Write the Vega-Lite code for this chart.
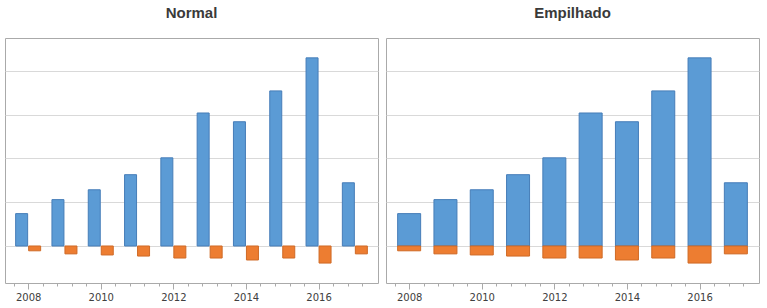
{
  "$schema": "https://vega.github.io/schema/vega-lite/v6.json",
  "padding": {"left": 4, "top": 5, "right": 2, "bottom": 2},
  "spacing": 6,
  "datasets": {
    "d": [
      {"year": 2008, "serie": "Série 1", "value": 7.4},
      {"year": 2009, "serie": "Série 1", "value": 10.6},
      {"year": 2010, "serie": "Série 1", "value": 12.85},
      {"year": 2011, "serie": "Série 1", "value": 16.3},
      {"year": 2012, "serie": "Série 1", "value": 20.15},
      {"year": 2013, "serie": "Série 1", "value": 30.4},
      {"year": 2014, "serie": "Série 1", "value": 28.4},
      {"year": 2015, "serie": "Série 1", "value": 35.45},
      {"year": 2016, "serie": "Série 1", "value": 43.0},
      {"year": 2017, "serie": "Série 1", "value": 14.45},
      {"year": 2008, "serie": "Série 2", "value": -1.1},
      {"year": 2009, "serie": "Série 2", "value": -1.8},
      {"year": 2010, "serie": "Série 2", "value": -2.05},
      {"year": 2011, "serie": "Série 2", "value": -2.3},
      {"year": 2012, "serie": "Série 2", "value": -2.75},
      {"year": 2013, "serie": "Série 2", "value": -2.75},
      {"year": 2014, "serie": "Série 2", "value": -3.2},
      {"year": 2015, "serie": "Série 2", "value": -2.75},
      {"year": 2016, "serie": "Série 2", "value": -3.9},
      {"year": 2017, "serie": "Série 2", "value": -1.8}
    ]
  },
  "hconcat": [
    {
      "title": {"text": "Normal"},
      "width": 373,
      "height": 245,
      "data": {"name": "d"},
      "layer": [
        {
          "transform": [{"filter": "datum.serie == 'Série 1'"}],
          "mark": {"type": "bar", "width": 12, "xOffset": -6.5, "fill": "#5B9BD5", "stroke": "#467DB8", "strokeWidth": 1},
          "encoding": {
            "x": {"field": "year", "type": "quantitative", "scale": {"domain": [2007.5, 2017.5], "nice": false, "zero": false},
              "axis": {"orient": "bottom", "values": [2008, 2010, 2012, 2014, 2016], "format": "d", "tickSize": 6}},
            "y": {"field": "value", "type": "quantitative", "scale": {"domain": [-8.46, 47.54], "nice": false, "zero": false},
              "axis": {"values": [0, 10, 20, 30, 40]}}
          }
        },
        {
          "transform": [{"filter": "datum.serie == 'Série 2'"}],
          "mark": {"type": "bar", "width": 12, "xOffset": 6.5, "fill": "#ED7D31", "stroke": "#CF6A26", "strokeWidth": 1},
          "encoding": {
            "x": {"field": "year", "type": "quantitative", "scale": {"domain": [2007.5, 2017.5], "nice": false, "zero": false},
              "axis": {"orient": "bottom", "values": [2007.6, 2008.4, 2008.8, 2009.2, 2009.6, 2010.4, 2010.8, 2011.2, 2011.6, 2012.4], "labels": false, "tickSize": 3}},
            "y": {"field": "value", "type": "quantitative", "scale": {"domain": [-8.46, 47.54], "nice": false, "zero": false},
              "axis": {"values": [0, 10, 20, 30, 40]}}
          }
        },
        {
          "transform": [{"filter": "false"}],
          "mark": {"type": "bar"},
          "encoding": {
            "x": {"field": "year", "type": "quantitative", "scale": {"domain": [2007.5, 2017.5], "nice": false, "zero": false},
              "axis": {"orient": "bottom", "values": [2012.8, 2013.2, 2013.6, 2014.4, 2014.8, 2015.2, 2015.6, 2016.4, 2016.8, 2017.2], "labels": false, "tickSize": 3}},
            "y": {"field": "value", "type": "quantitative", "scale": {"domain": [-8.46, 47.54], "nice": false, "zero": false},
              "axis": {"values": [0, 10, 20, 30, 40]}}
          }
        }
      ],
      "resolve": {"axis": {"x": "independent"}}
    },
    {
      "title": {"text": "Empilhado"},
      "width": 373,
      "height": 245,
      "data": {"name": "d"},
      "layer": [
        {
          "mark": {"type": "bar", "width": 23, "strokeWidth": 1},
          "encoding": {
            "x": {"field": "year", "type": "quantitative", "scale": {"domain": [2007.5, 2017.5], "nice": false, "zero": false},
              "axis": {"orient": "bottom", "values": [2008, 2010, 2012, 2014, 2016], "format": "d", "tickSize": 6}},
            "y": {"field": "value", "type": "quantitative", "stack": "zero", "scale": {"domain": [-8.46, 47.54], "nice": false, "zero": false},
              "axis": {"values": [0, 10, 20, 30, 40]}},
            "color": {"field": "serie", "type": "nominal",
              "scale": {"domain": ["Série 1", "Série 2"], "range": ["#5B9BD5", "#ED7D31"]}, "legend": null},
            "stroke": {"field": "serie", "type": "nominal",
              "scale": {"domain": ["Série 1", "Série 2"], "range": ["#467DB8", "#CF6A26"]}, "legend": null}
          }
        },
        {
          "transform": [{"filter": "false"}],
          "mark": {"type": "bar"},
          "encoding": {
            "x": {"field": "year", "type": "quantitative", "scale": {"domain": [2007.5, 2017.5], "nice": false, "zero": false},
              "axis": {"orient": "bottom", "values": [2007.6, 2008.4, 2008.8, 2009.2, 2009.6, 2010.4, 2010.8, 2011.2, 2011.6, 2012.4], "labels": false, "tickSize": 3}},
            "y": {"field": "value", "type": "quantitative", "scale": {"domain": [-8.46, 47.54], "nice": false, "zero": false},
              "axis": {"values": [0, 10, 20, 30, 40]}}
          }
        },
        {
          "transform": [{"filter": "false"}],
          "mark": {"type": "bar"},
          "encoding": {
            "x": {"field": "year", "type": "quantitative", "scale": {"domain": [2007.5, 2017.5], "nice": false, "zero": false},
              "axis": {"orient": "bottom", "values": [2012.8, 2013.2, 2013.6, 2014.4, 2014.8, 2015.2, 2015.6, 2016.4, 2016.8, 2017.2], "labels": false, "tickSize": 3}},
            "y": {"field": "value", "type": "quantitative", "scale": {"domain": [-8.46, 47.54], "nice": false, "zero": false},
              "axis": {"values": [0, 10, 20, 30, 40]}}
          }
        }
      ],
      "resolve": {"axis": {"x": "independent"}}
    }
  ],
  "config": {
    "view": {"stroke": "#AAAAAA", "strokeWidth": 1},
    "title": {"font": "Liberation Sans", "fontSize": 15, "fontWeight": "bold", "color": "#3A3A3A", "offset": 17, "anchor": "middle"},
    "axisX": {
      "grid": false, "domain": false, "title": null,
      "tickColor": "#AAAAAA", "tickWidth": 1,
      "labelFont": "DejaVu Sans", "labelFontSize": 10, "labelColor": "#404040",
      "labelPadding": 3, "labelOverlap": false, "labelFlush": false
    },
    "axisY": {
      "grid": true, "gridColor": "#D9D9D9", "gridWidth": 1,
      "labels": false, "ticks": false, "domain": false, "title": null
    }
  }
}
